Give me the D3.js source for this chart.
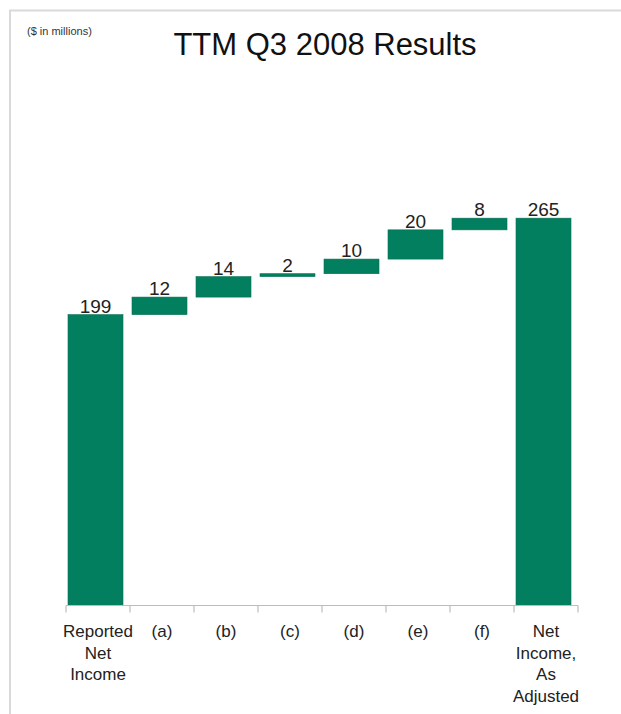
<!DOCTYPE html>
<html>
<head>
<meta charset="utf-8">
<script src="https://cdn.jsdelivr.net/npm/d3@7"></script>
<style>
  html, body { margin: 0; padding: 0; background: #fff; }
  svg { display: block; font-family: "Liberation Sans", Arial, sans-serif; }
</style>
</head>
<body>
<svg id="chart" width="621" height="714"></svg>
<script>
// Waterfall: reported net income, adjustments (a)-(f), adjusted net income
const categories = ["Reported Net Income", "(a)", "(b)", "(c)", "(d)", "(e)", "(f)", "Net Income, As Adjusted"];
const categoryLines = [["Reported", "Net", "Income"], ["(a)"], ["(b)"], ["(c)"], ["(d)"], ["(e)"], ["(f)"], ["Net", "Income,", "As", "Adjusted"]];
const values = [199, 12, 14, 2, 10, 20, 8, 265];
const kinds = ["total", "delta", "delta", "delta", "delta", "delta", "delta", "total"];

const svg = d3.select("#chart");
const green = "#017f5f";

// frame
svg.append("path")
  .attr("d", "M10,714 L10,10.5 L621,10.5")
  .attr("fill", "none")
  .attr("stroke", "#d9d9d9")
  .attr("stroke-width", 2);

svg.append("text")
  .attr("x", 27).attr("y", 35)
  .attr("font-size", 11).attr("fill", "#333")
  .text("($ in millions)");

svg.append("text")
  .attr("x", 325).attr("y", 55)
  .attr("text-anchor", "middle")
  .attr("font-size", 31).attr("fill", "#111")
  .text("TTM Q3 2008 Results");

const x = d3.scaleBand().domain(categories).range([66, 578]).padding(0);
const y = d3.scaleLinear().domain([0, 300]).range([605.5, 167]);

// compute running start/end for each bar
let running = 0;
const bars = categories.map((c, i) => {
  let y0, y1;
  if (kinds[i] === "total") { y0 = 0; y1 = values[i]; running = values[i]; }
  else { y0 = running; y1 = running + values[i]; running = y1; }
  return { cat: c, v: values[i], y0, y1 };
});

const barInset = 2, barW = x.bandwidth() - 9;

svg.append("g").selectAll("rect")
  .data(bars).join("rect")
  .attr("x", d => x(d.cat) + barInset)
  .attr("width", barW)
  .attr("y", d => y(d.y1))
  .attr("height", d => y(d.y0) - y(d.y1))
  .attr("fill", green)
  .attr("stroke", "#0b6e55")
  .attr("stroke-width", 0.6);

svg.append("g").selectAll("text")
  .data(bars).join("text")
  .attr("x", d => x(d.cat) + barInset + barW / 2)
  .attr("y", d => y(d.y1) - 2)
  .attr("text-anchor", "middle")
  .attr("font-size", 19)
  .attr("fill", "#222")
  .text(d => d.v);

// category axis
const axis = svg.append("g").attr("stroke", "#bdbdbd").attr("stroke-width", 1.2);
axis.append("line")
  .attr("x1", x.range()[0]).attr("x2", x.range()[1])
  .attr("y1", y(0)).attr("y2", y(0));
const tickX = categories.map(c => x(c)).concat([x.range()[1]]);
axis.selectAll("line.tick")
  .data(tickX).join("line")
  .attr("class", "tick")
  .attr("x1", d => d).attr("x2", d => d)
  .attr("y1", y(0)).attr("y2", y(0) + 7);

const labels = svg.append("g");
categories.forEach((c, i) => {
  const t = labels.append("text")
    .attr("x", x(c) + x.bandwidth() / 2)
    .attr("y", 637)
    .attr("text-anchor", "middle")
    .attr("font-size", 17)
    .attr("fill", "#222");
  categoryLines[i].forEach((line, j) => {
    t.append("tspan")
      .attr("x", x(c) + x.bandwidth() / 2)
      .attr("dy", j === 0 ? 0 : 21.5)
      .text(line);
  });
});
</script>
</body>
</html>
